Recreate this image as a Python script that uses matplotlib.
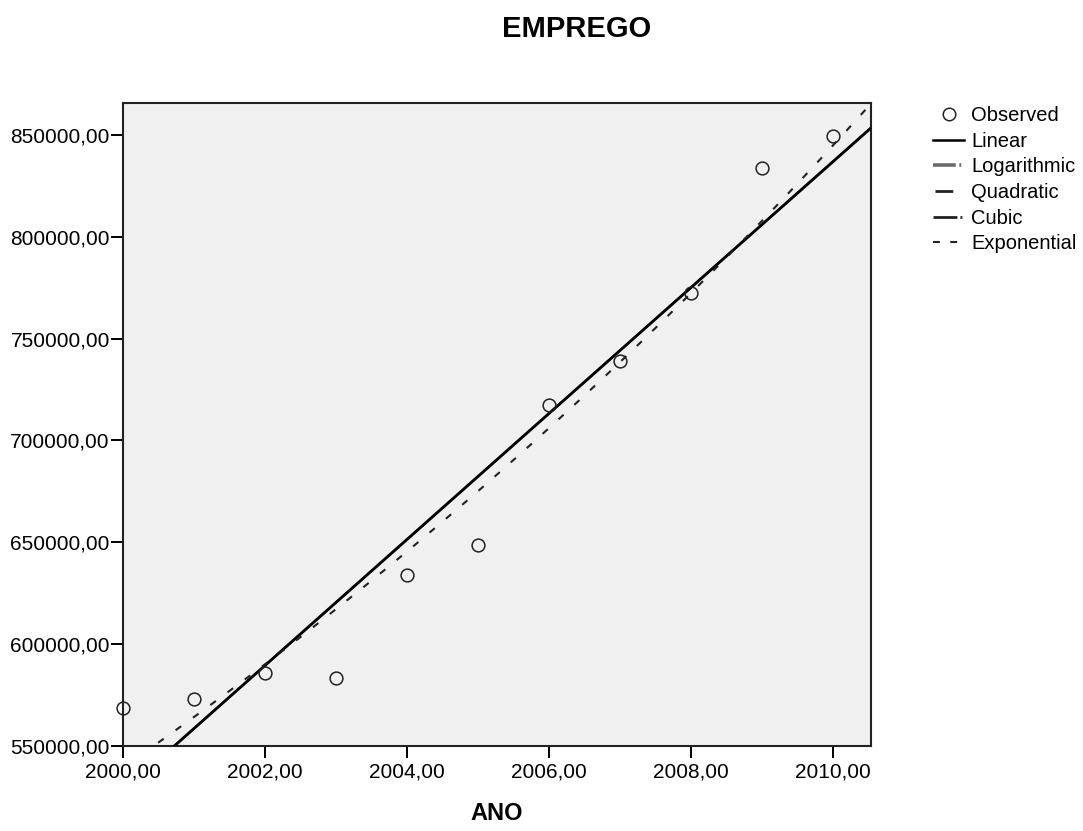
import numpy as np
import matplotlib
matplotlib.use('Agg')
import matplotlib.pyplot as plt
from matplotlib.lines import Line2D
from matplotlib.ticker import FuncFormatter, MultipleLocator

plt.rcParams['font.family'] = ['Liberation Sans', 'DejaVu Sans']

# observed employment by year
ano = np.array([2000, 2001, 2002, 2003, 2004, 2005, 2006, 2007, 2008, 2009, 2010])
emprego = np.array([568300, 572700, 585800, 583000, 633900, 648600,
                    717500, 738800, 772400, 833900, 849500])

xmin, xmax = 2000, 2010.53
ymin, ymax = 550000, 866000

# curve estimation: linear and exponential fits (least squares)
b1, b0 = np.polyfit(ano, emprego, 1)
e1, e0 = np.polyfit(ano, np.log(emprego), 1)
xs = np.linspace(xmin, xmax, 400)
lin = b0 + b1 * xs
expo = np.exp(e0 + e1 * xs)
# logarithmic fit sits right on top of the linear one over this range
l1, l0 = np.polyfit(np.log(ano), emprego, 1)
logf = l0 + l1 * np.log(xs)

fig = plt.figure(figsize=(10.83, 8.31), dpi=100)
ax = fig.add_axes([123 / 1083, 1 - 745.5 / 831, 747.7 / 1083, 643 / 831])
ax.set_facecolor('#f0f0f0')

ax.plot(xs, logf, color='#555555', lw=1.9, zorder=2)
ax.plot(xs, lin, color='black', lw=1.9, zorder=3)
ax.plot(xs, expo, color='#222222', lw=1.5, dashes=(3.3, 7), zorder=3)
ax.plot(ano, emprego, 'o', ms=9.2, mfc='none', mec='#222222', mew=1.1,
        zorder=4, clip_on=False)

ax.set_xlim(xmin, xmax)
ax.set_ylim(ymin, ymax)
ax.xaxis.set_major_locator(MultipleLocator(2))
ax.yaxis.set_major_locator(MultipleLocator(50000))
fmt = FuncFormatter(lambda v, p: f'{v:.2f}'.replace('.', ','))
ax.xaxis.set_major_formatter(fmt)
ax.yaxis.set_major_formatter(fmt)
ax.tick_params(direction='out', length=8.5, width=1.4, labelsize=15,
               pad=1, colors='black')
ax.tick_params(axis='x', pad=4)
for s in ax.spines.values():
    s.set_linewidth(1.5)
    s.set_color('#222222')

fig.text(577 / 1083, 1 - 29 / 831, 'EMPREGO', ha='center', va='center',
         fontsize=21, fontweight='bold')
fig.text(497 / 1083, 1 - 813 / 831, 'ANO', ha='center', va='center',
         fontsize=17, fontweight='bold')

handles = [
    Line2D([], [], ls='none', marker='o', ms=9, mfc='none', mec='#222222', mew=1.1),
    Line2D([], [], color='black', lw=1.8),
    Line2D([], [], color='#6a6a6a', lw=2.6, dashes=(6.3, 1, 0.5, 10)),
    Line2D([], [], color='#222222', lw=2, dashes=(0.01, 0.7, 6.4, 20)),
    Line2D([], [], color='#222222', lw=2, dashes=(8.6, 1.1, 0.7, 10)),
    Line2D([], [], color='#222222', lw=1.5, dashes=(3.3, 5)),
]
labels = ['Observed', 'Linear', 'Logarithmic', 'Quadratic', 'Cubic', 'Exponential']
fig.legend(handles, labels, loc='upper left', bbox_to_anchor=(933 / 1083, 1 - 106 / 831),
           frameon=False, fontsize=14.5, handlelength=1.55, handletextpad=0.35,
           labelspacing=0.33, borderpad=0, borderaxespad=0)

fig.savefig('out.png', dpi=100)
